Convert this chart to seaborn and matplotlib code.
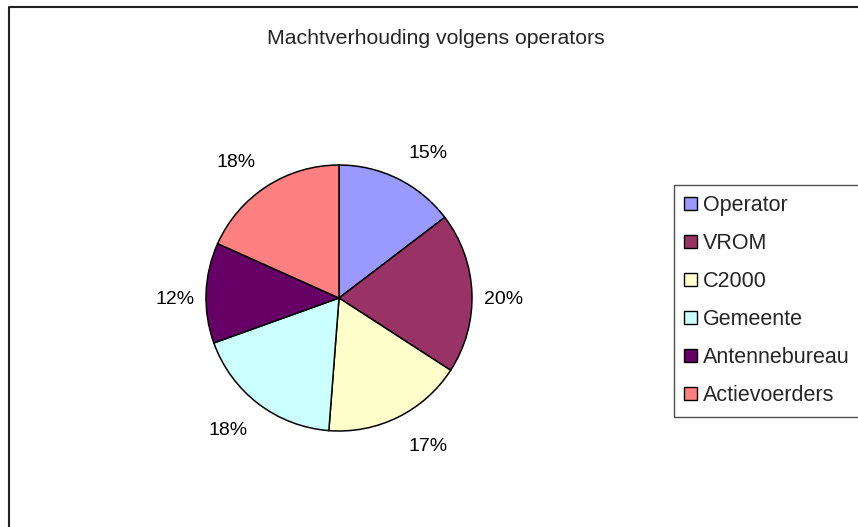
import matplotlib
matplotlib.use("Agg")
import numpy as np
import matplotlib.pyplot as plt
from matplotlib.lines import Line2D
from matplotlib.patches import Patch
import seaborn as sns

categories = ["Operator", "VROM", "C2000", "Gemeente", "Antennebureau", "Actievoerders"]
values = [12, 16, 14, 15, 10, 15]  # shares shown as 15%, 20%, 17%, 18%, 12%, 18%
colors = ["#9999FF", "#993366", "#FFFFCC", "#CCFFFF", "#660066", "#FF8080"]
title = "Machtverhouding volgens operators"

sns.set_theme(style="white")
plt.rcParams["font.family"] = ["Liberation Sans", "DejaVu Sans"]

W, H = 858, 527
fig = plt.figure(figsize=(W / 100, H / 100), dpi=100)
fig.patch.set_facecolor("white")

cx, cy, r = 339, 298, 133
ax = fig.add_axes([(cx - r) / W, (H - cy - r) / H, 2 * r / W, 2 * r / H])
palette = sns.color_palette(colors)
wedges, texts, autotexts = ax.pie(
    values, colors=palette, startangle=90, counterclock=False,
    autopct=lambda p: f"{p:.0f}%", pctdistance=1.2, radius=1,
    wedgeprops=dict(edgecolor="black", linewidth=1.1),
    textprops=dict(fontsize=14, color="black"),
)
# Excel-style outside label placement
for w, t in zip(wedges, autotexts):
    th = np.radians((w.theta1 + w.theta2) / 2)
    c, s = np.cos(th), np.sin(th)
    x = 1.01 * c + 0.225 * np.sign(c)
    y = 1.23 * s * min(1.0, abs(s) / 0.3)
    t.set_position((x, y))
    t.set_ha("center")
    t.set_va("center_baseline")
ax.set_xlim(-1, 1)
ax.set_ylim(-1, 1)
ax.set_aspect("equal")
ax.axis("off")

fig.text(436 / W, 1 - 43.5 / H, title, ha="center", va="baseline", fontsize=15.3)

handles = [Patch(facecolor=c, edgecolor="black", linewidth=1.0) for c in palette]
leg = fig.legend(handles, categories, loc="upper left",
                 bbox_to_anchor=(674 / W, 1 - 185 / H),
                 fontsize=15.5, frameon=True, fancybox=False, edgecolor="#222222",
                 labelspacing=0.79, handlelength=0.58, handleheight=0.58,
                 handletextpad=0.3, borderpad=0.48, borderaxespad=0)
leg.get_frame().set_linewidth(1.0)

# chart area border (top and left visible)
fig.add_artist(Line2D([8.5 / W, 8.5 / W, 1.0], [0, 1 - 6.5 / H, 1 - 6.5 / H],
                      transform=fig.transFigure, color="#222222", linewidth=1.5))

fig.savefig("out.png", dpi=100)
